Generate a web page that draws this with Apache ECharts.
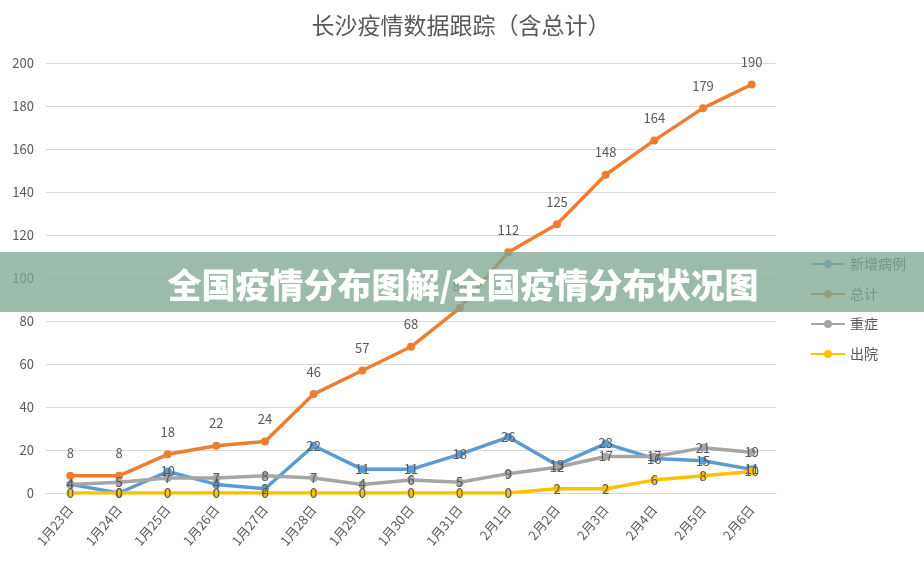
<!DOCTYPE html>
<html>
<head>
<meta charset="utf-8">
<script src="https://cdn.jsdelivr.net/npm/echarts@6/dist/echarts.min.js"></script>
<style>
  html, body { margin: 0; padding: 0; background: #fff; }
  #chart { width: 924px; height: 566px; }
</style>
</head>
<body>
<div id="chart"></div>
<script>
// 数据
const dates = ['1月23日', '1月24日', '1月25日', '1月26日', '1月27日', '1月28日', '1月29日', '1月30日',
  '1月31日', '2月1日', '2月2日', '2月3日', '2月4日', '2月5日', '2月6日'];
const newCases = [4, 0, 10, 4, 2, 22, 11, 11, 18, 26, 13, 23, 16, 15, 11];
const totalCases = [8, 8, 18, 22, 24, 46, 57, 68, 86, 112, 125, 148, 164, 179, 190];
const severeCases = [4, 5, 7, 7, 8, 7, 4, 6, 5, 9, 12, 17, 17, 21, 19];
const discharged = [0, 0, 0, 0, 0, 0, 0, 0, 0, 0, 2, 2, 6, 8, 10];

const chart = echarts.init(document.getElementById('chart'));
const font = '"Microsoft YaHei", "Noto Sans CJK SC", sans-serif';
const textColor = '#595959';

function makeSeries(name, data, color, labelPos) {
  return {
    name: name,
    type: 'line',
    data: data,
    symbol: 'circle',
    symbolSize: 8,
    lineStyle: { width: 3.5, color: color },
    itemStyle: { color: color },
    label: {
      show: true,
      position: labelPos,
      distance: labelPos === 'top' ? 12 : 0,
      color: textColor,
      fontSize: 13,
      fontFamily: font
    }
  };
}

chart.setOption({
  animation: false,
  title: {
    text: '长沙疫情数据跟踪（含总计）',
    left: 456,
    textAlign: 'center',
    top: 9,
    textStyle: { color: textColor, fontSize: 23, fontWeight: 'normal', fontFamily: font }
  },
  legend: {
    orient: 'vertical',
    left: 805,
    top: 252,
    itemGap: 16,
    itemWidth: 34,
    itemHeight: 10,
    textStyle: { color: textColor, fontSize: 14, fontFamily: font },
    data: ['新增病例', '总计', '重症', '出院']
  },
  grid: { left: 46, right: 148, top: 63, bottom: 73 },
  xAxis: {
    type: 'category',
    data: dates,
    axisLine: { lineStyle: { color: '#d9d9d9' } },
    axisTick: { show: false },
    axisLabel: { rotate: 50, color: textColor, fontSize: 13, fontFamily: font, margin: 14 }
  },
  yAxis: {
    type: 'value',
    min: 0,
    max: 200,
    interval: 20,
    axisLine: { show: false },
    axisTick: { show: false },
    splitLine: { lineStyle: { color: '#d9d9d9' } },
    axisLabel: { color: textColor, fontSize: 13, fontFamily: font, margin: 12 }
  },
  series: [
    makeSeries('新增病例', newCases, '#5B9BD5', 'inside'),
    makeSeries('总计', totalCases, '#ED7D31', 'top'),
    makeSeries('重症', severeCases, '#A5A5A5', 'inside'),
    makeSeries('出院', discharged, '#FFC000', 'inside')
  ],
  graphic: [
    {
      type: 'rect',
      z: 100,
      shape: { x: 0, y: 252, width: 924, height: 60 },
      style: { fill: 'rgba(128, 168, 146, 0.78)' }
    },
    {
      type: 'text',
      z: 101,
      x: 463,
      y: 285,
      style: {
        text: '全国疫情分布图解/全国疫情分布状况图',
        fill: '#ffffff',
        font: '900 34px "Noto Sans CJK SC", sans-serif',
        align: 'center',
        verticalAlign: 'middle'
      }
    }
  ]
});
</script>
</body>
</html>
